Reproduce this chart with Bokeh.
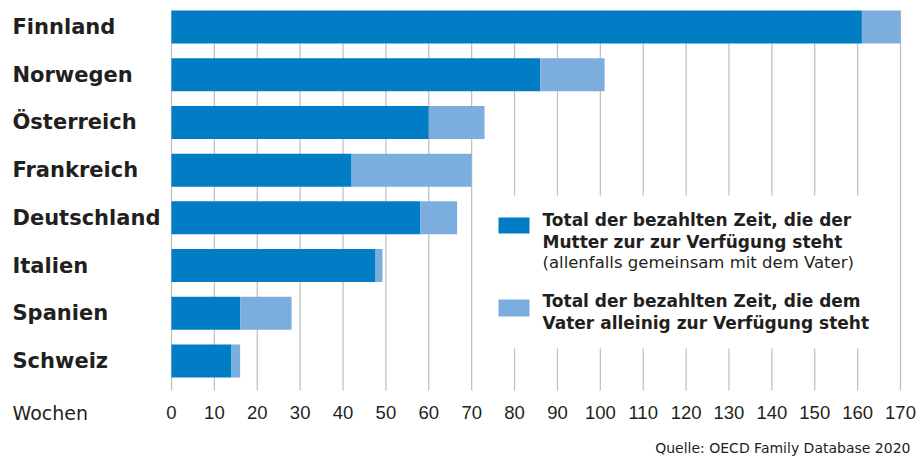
from bokeh.plotting import figure
from bokeh.models import Range1d, Label, ColumnDataSource
from bokeh.core.properties import value
from bokeh.embed import file_html
from bokeh.resources import INLINE

# ---- data ----
countries = ["Finnland", "Norwegen", "Österreich", "Frankreich",
             "Deutschland", "Italien", "Spanien", "Schweiz"]
mother_weeks = [161, 86, 60, 42, 58, 47.6, 16, 14]
father_weeks = [9, 15, 13, 28, 8.6, 1.6, 12, 2]
x_ticks = [0, 10, 20, 30, 40, 50, 60, 70, 80, 90, 100, 110, 120, 130, 140, 150, 160, 170]
x_tick_labels = [str(t) for t in x_ticks]
legend_mother = ["Total der bezahlten Zeit, die der", "Mutter zur zur Verfügung steht"]
legend_mother_note = "(allenfalls gemeinsam mit dem Vater)"
legend_father = ["Total der bezahlten Zeit, die dem", "Vater alleinig zur Verfügung steht"]
axis_title = "Wochen"
source_note = "Quelle: OECD Family Database 2020"

DARK = "#007DC5"
LIGHT = "#7BAEDE"
TEXT = "#231F20"
GRID = "#BDBDBD"

W, H = 920, 458
PX_X0 = 171.0            # pixel of 0 weeks
PX_PER_WEEK = 729.0 / 170
PX_Y0 = 26.5             # pixel of first bar centre
PX_PER_ROW = 47.714


def wx(px):
    return (px - PX_X0) / PX_PER_WEEK


def wy(py):
    return (py - PX_Y0) / PX_PER_ROW


ypos = list(range(len(countries)))
totals = [m + f for m, f in zip(mother_weeks, father_weeks)]
src = ColumnDataSource(dict(y=ypos, country=countries, mother=mother_weeks,
                            total=totals, zero=[0] * len(countries),
                            lx=[wx(12)] * len(countries)))
tick_src = ColumnDataSource(dict(x=x_ticks, label=x_tick_labels,
                                 top=[wy(10)] * len(x_ticks),
                                 bot=[wy(390)] * len(x_ticks),
                                 ly=[wy(412)] * len(x_ticks)))

p = figure(width=W, height=H, output_backend="svg", toolbar_location=None,
           x_range=Range1d(wx(0), wx(W)), y_range=Range1d(wy(H), wy(0)),
           x_axis_location=None, y_axis_location=None,
           min_border=0)
p.outline_line_color = None
p.grid.visible = False

# vertical grid lines at the week ticks
p.segment(x0="x", x1="x", y0="top", y1="bot", source=tick_src,
          line_color=GRID, line_width=1.2)

BAR_H = 33 / PX_PER_ROW
p.hbar(y="y", left="zero", right="mother", height=BAR_H, source=src,
       fill_color=DARK, line_color=None)
p.hbar(y="y", left="mother", right="total", height=BAR_H, source=src,
       fill_color=LIGHT, line_color=None)

# country labels
p.text(x="lx", y="y", text="country", source=src,
       text_font=value("DejaVu Sans"), text_font_style="bold",
       text_font_size="21px", text_color=TEXT,
       text_baseline="middle", text_align="left")

# tick labels
p.text(x="x", y="ly", text="label", source=tick_src,
       text_font=value("Liberation Sans"), text_font_size="18.5px",
       text_color=TEXT, text_baseline="middle", text_align="center")

# legend background and swatches
p.quad(left=[wx(485)], right=[wx(890)], top=[wy(195)], bottom=[wy(348)],
       fill_color="white", line_color=None)
p.quad(left=[wx(498)], right=[wx(529)], top=[wy(217)], bottom=[wy(233)],
       fill_color=DARK, line_color=None)
p.quad(left=[wx(498)], right=[wx(529)], top=[wy(299)], bottom=[wy(316)],
       fill_color=LIGHT, line_color=None)

lx = wx(542)
for txt, py in zip(legend_mother, [219, 241]):
    p.add_layout(Label(x=lx, y=wy(py), text=txt, text_font="DejaVu Sans",
                       text_font_style="bold", text_font_size="17px",
                       text_color=TEXT, text_baseline="middle"))
p.add_layout(Label(x=lx, y=wy(262), text=legend_mother_note, text_font="DejaVu Sans",
                   text_font_size="16.5px", text_color=TEXT,
                   text_baseline="middle"))
for txt, py in zip(legend_father, [300, 322]):
    p.add_layout(Label(x=lx, y=wy(py), text=txt, text_font="DejaVu Sans",
                       text_font_style="bold", text_font_size="17px",
                       text_color=TEXT, text_baseline="middle"))

p.add_layout(Label(x=wx(12), y=wy(412), text=axis_title, text_font="DejaVu Sans",
                   text_font_size="19px", text_color=TEXT,
                   text_baseline="middle"))
p.add_layout(Label(x=wx(910), y=wy(447), text=source_note, text_font="DejaVu Sans",
                   text_font_size="14px", text_color=TEXT, text_align="right",
                   text_baseline="middle"))

open("out.html", "w").write(file_html(p, INLINE))
